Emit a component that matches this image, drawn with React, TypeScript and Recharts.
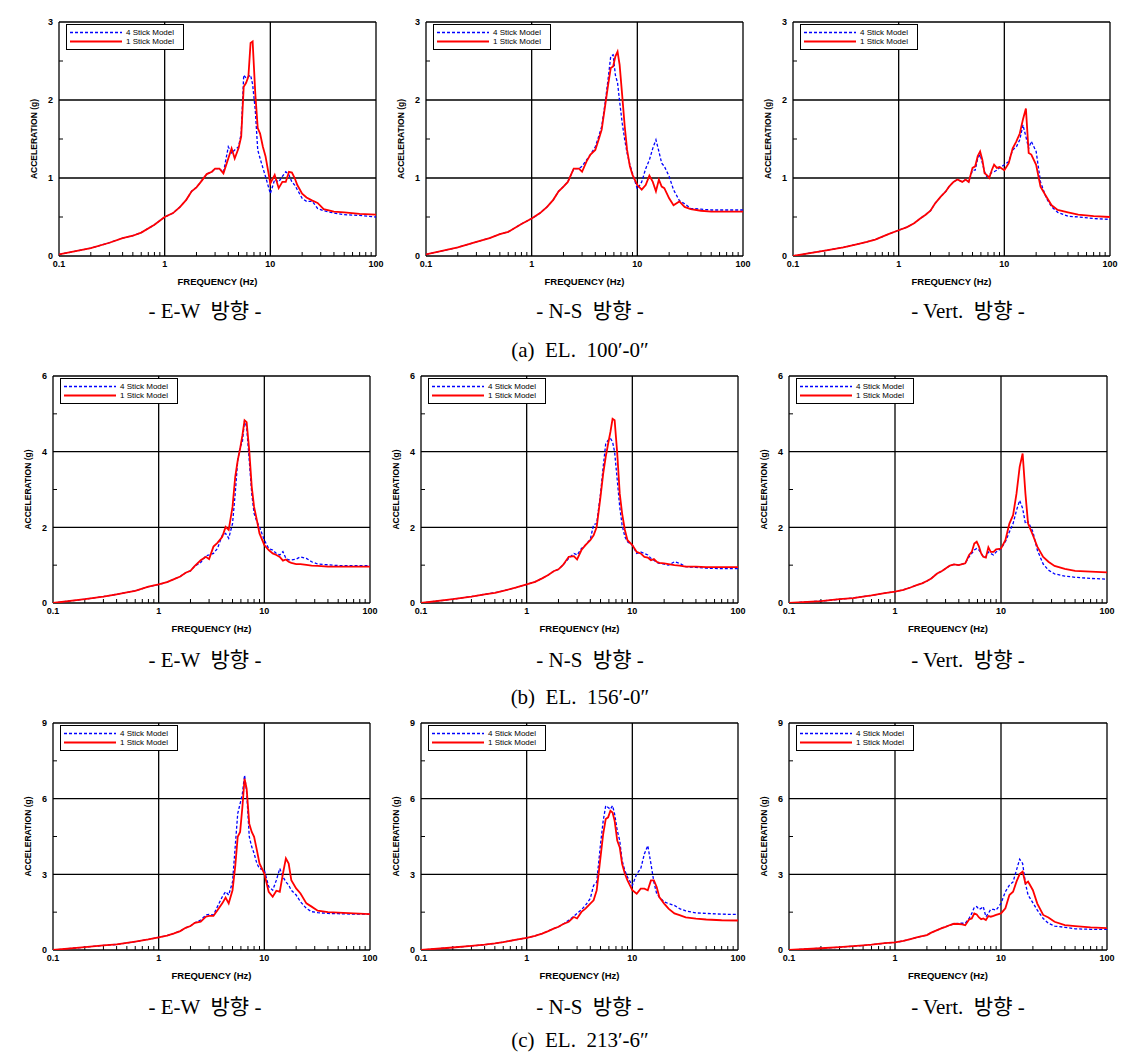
import { LineChart, Line, XAxis, YAxis, CartesianGrid, ReferenceLine } from 'recharts';

// frequency grid (Hz) shared by every panel
const FREQ = [
  0.1, 0.2, 0.3, 0.4, 0.5, 0.6, 0.8,
  1.0, 1.2, 1.4, 1.6, 1.8,
  2.0, 2.2, 2.5, 2.8,
  3.0, 3.3, 3.6,
  4.0, 4.3, 4.6,
  5.0, 5.3, 5.6, 5.9,
  6.2, 6.5, 6.8,
  7.2, 7.6,
  8.0, 8.5,
  9.0,
  10, 11, 12, 13, 14, 15, 16, 17, 18,
  20, 22, 25, 28,
  32, 40, 50, 70, 100,
];

const X_TICKS = [0.1, 1, 10, 100];
const X_MINOR = [0.2, 0.3, 0.4, 0.5, 0.6, 0.7, 0.8, 0.9, 2, 3, 4, 5, 6, 7, 8, 9, 20, 30, 40, 50, 60, 70, 80, 90];

const Y_TICKS_A = [0, 1, 2, 3];
const Y_MINOR_A = [0.5, 1.5, 2.5];
const Y_TICKS_B = [0, 2, 4, 6];
const Y_MINOR_B = [1, 3, 5];
const Y_TICKS_C = [0, 3, 6, 9];
const Y_MINOR_C = [1.5, 4.5, 7.5];

// (a) EL. 100'-0"
const EW_A_FOUR = [0.02, 0.10, 0.17, 0.23, 0.26, 0.30, 0.40, 0.50, 0.55, 0.63, 0.72, 0.83, 0.88, 0.95, 1.05, 1.08, 1.12, 1.12, 1.07, 1.40, 1.32, 1.36, 1.40, 1.57, 2.32, 2.28, 2.30, 2.32, 2.20, 1.87, 1.36, 1.25, 1.13, 1.02, 0.80, 0.98, 0.95, 1.02, 1.08, 1.04, 0.95, 0.91, 0.85, 0.74, 0.70, 0.70, 0.61, 0.58, 0.55, 0.53, 0.52, 0.50];
const EW_A_ONE = [0.02, 0.10, 0.17, 0.23, 0.26, 0.30, 0.40, 0.50, 0.55, 0.63, 0.72, 0.83, 0.88, 0.95, 1.05, 1.08, 1.12, 1.12, 1.06, 1.25, 1.38, 1.25, 1.38, 1.53, 2.17, 2.22, 2.30, 2.73, 2.75, 2.09, 1.64, 1.57, 1.40, 1.28, 0.93, 1.04, 0.87, 0.95, 0.95, 1.08, 1.07, 1.00, 0.91, 0.80, 0.75, 0.71, 0.68, 0.60, 0.57, 0.56, 0.54, 0.53];
const NS_A_FOUR = [0.02, 0.11, 0.18, 0.23, 0.28, 0.31, 0.41, 0.48, 0.55, 0.63, 0.72, 0.83, 0.89, 0.95, 1.12, 1.12, 1.15, 1.23, 1.30, 1.40, 1.53, 1.66, 2.00, 2.28, 2.56, 2.58, 2.32, 2.22, 1.98, 1.70, 1.49, 1.32, 1.17, 1.06, 0.86, 0.95, 1.12, 1.23, 1.38, 1.49, 1.34, 1.19, 1.15, 1.02, 0.85, 0.71, 0.67, 0.61, 0.60, 0.59, 0.59, 0.59];
const NS_A_ONE = [0.02, 0.11, 0.18, 0.23, 0.28, 0.31, 0.41, 0.48, 0.55, 0.63, 0.72, 0.83, 0.89, 0.95, 1.12, 1.12, 1.08, 1.21, 1.30, 1.36, 1.49, 1.62, 1.96, 2.20, 2.41, 2.43, 2.56, 2.62, 2.45, 2.05, 1.66, 1.36, 1.15, 1.04, 0.91, 0.85, 0.91, 1.03, 0.95, 0.83, 0.98, 0.89, 0.87, 0.74, 0.65, 0.70, 0.63, 0.60, 0.58, 0.57, 0.57, 0.57];
const VT_A_FOUR = [0.00, 0.07, 0.11, 0.15, 0.18, 0.21, 0.28, 0.33, 0.37, 0.42, 0.48, 0.53, 0.58, 0.67, 0.76, 0.83, 0.89, 0.95, 0.98, 0.95, 0.98, 0.95, 1.10, 1.10, 1.25, 1.30, 1.19, 1.08, 1.02, 1.04, 1.07, 1.08, 1.10, 1.13, 1.17, 1.21, 1.36, 1.40, 1.49, 1.68, 1.53, 1.38, 1.47, 1.34, 0.95, 0.74, 0.63, 0.56, 0.51, 0.50, 0.48, 0.47];
const VT_A_ONE = [0.00, 0.07, 0.11, 0.15, 0.18, 0.21, 0.28, 0.33, 0.37, 0.42, 0.48, 0.53, 0.58, 0.67, 0.76, 0.83, 0.89, 0.95, 0.98, 0.95, 0.98, 0.95, 1.13, 1.15, 1.28, 1.34, 1.23, 1.06, 1.04, 1.00, 1.10, 1.17, 1.13, 1.14, 1.10, 1.19, 1.38, 1.47, 1.57, 1.75, 1.89, 1.32, 1.30, 1.17, 0.89, 0.76, 0.65, 0.59, 0.56, 0.53, 0.51, 0.50];

// (b) EL. 156'-0"
const EW_B_FOUR = [0.00, 0.10, 0.17, 0.23, 0.28, 0.32, 0.43, 0.49, 0.55, 0.63, 0.70, 0.80, 0.85, 0.98, 1.07, 1.25, 1.27, 1.31, 1.44, 1.79, 1.84, 1.71, 2.10, 2.89, 3.77, 4.12, 4.26, 4.83, 4.65, 3.77, 2.89, 2.37, 2.15, 2.01, 1.66, 1.44, 1.40, 1.31, 1.27, 1.36, 1.18, 1.14, 1.14, 1.16, 1.22, 1.18, 1.09, 1.03, 1.01, 0.99, 0.99, 0.99];
const EW_B_ONE = [0.00, 0.10, 0.17, 0.23, 0.28, 0.32, 0.43, 0.49, 0.55, 0.63, 0.70, 0.80, 0.85, 0.98, 1.13, 1.22, 1.16, 1.49, 1.59, 1.75, 2.01, 1.93, 2.54, 3.33, 3.77, 4.08, 4.43, 4.83, 4.78, 4.03, 3.07, 2.54, 2.19, 1.84, 1.53, 1.40, 1.31, 1.27, 1.22, 1.12, 1.15, 1.09, 1.06, 1.03, 1.03, 1.01, 0.99, 0.98, 0.96, 0.96, 0.96, 0.96];
const NS_B_FOUR = [0.00, 0.10, 0.17, 0.23, 0.27, 0.32, 0.41, 0.49, 0.56, 0.65, 0.74, 0.84, 0.89, 1.00, 1.18, 1.31, 1.27, 1.44, 1.53, 1.68, 2.07, 2.10, 2.89, 3.60, 4.21, 4.30, 4.35, 4.26, 3.99, 3.25, 2.54, 2.06, 1.75, 1.62, 1.53, 1.31, 1.35, 1.31, 1.27, 1.18, 1.13, 1.07, 1.05, 1.03, 1.00, 1.09, 1.05, 0.96, 0.94, 0.92, 0.91, 0.91];
const NS_B_ONE = [0.00, 0.10, 0.17, 0.23, 0.27, 0.32, 0.41, 0.49, 0.56, 0.65, 0.74, 0.84, 0.89, 1.00, 1.22, 1.24, 1.15, 1.40, 1.53, 1.66, 1.79, 2.01, 2.81, 3.42, 3.86, 4.21, 4.52, 4.87, 4.83, 3.95, 2.89, 2.37, 1.93, 1.66, 1.53, 1.35, 1.31, 1.22, 1.20, 1.13, 1.16, 1.09, 1.06, 1.05, 1.03, 1.00, 0.99, 0.96, 0.96, 0.95, 0.95, 0.95];
const VT_B_FOUR = [0.00, 0.05, 0.10, 0.13, 0.17, 0.20, 0.26, 0.30, 0.35, 0.41, 0.47, 0.52, 0.58, 0.65, 0.78, 0.85, 0.91, 0.99, 1.02, 1.00, 1.03, 1.05, 1.22, 1.31, 1.40, 1.44, 1.40, 1.31, 1.22, 1.22, 1.35, 1.31, 1.27, 1.35, 1.44, 1.62, 1.88, 2.10, 2.45, 2.71, 2.50, 2.10, 2.15, 1.88, 1.40, 1.03, 0.87, 0.77, 0.71, 0.68, 0.65, 0.63];
const VT_B_ONE = [0.00, 0.05, 0.10, 0.13, 0.17, 0.20, 0.26, 0.30, 0.35, 0.41, 0.47, 0.52, 0.58, 0.65, 0.78, 0.85, 0.91, 0.99, 1.02, 1.00, 1.03, 1.05, 1.27, 1.35, 1.57, 1.62, 1.49, 1.31, 1.22, 1.20, 1.47, 1.35, 1.35, 1.42, 1.44, 1.66, 2.10, 2.32, 2.89, 3.60, 3.95, 2.89, 2.10, 1.79, 1.49, 1.22, 1.09, 0.98, 0.90, 0.85, 0.83, 0.81];

// (c) EL. 213'-6"
const EW_C_FOUR = [0.00, 0.11, 0.18, 0.22, 0.28, 0.33, 0.42, 0.50, 0.57, 0.66, 0.75, 0.88, 0.95, 1.08, 1.19, 1.39, 1.41, 1.39, 1.72, 2.11, 2.31, 2.18, 2.70, 4.09, 5.41, 5.80, 6.20, 6.93, 6.27, 4.49, 4.09, 3.83, 3.43, 3.23, 3.17, 2.51, 2.37, 2.77, 3.23, 2.90, 2.70, 2.57, 2.37, 2.18, 1.91, 1.65, 1.52, 1.48, 1.45, 1.44, 1.42, 1.42];
const EW_C_ONE = [0.00, 0.11, 0.18, 0.22, 0.28, 0.33, 0.42, 0.50, 0.57, 0.66, 0.75, 0.88, 0.95, 1.08, 1.12, 1.32, 1.35, 1.35, 1.58, 1.85, 2.08, 1.85, 2.37, 3.30, 4.49, 4.68, 5.67, 6.79, 6.40, 5.01, 4.68, 4.49, 3.96, 3.43, 3.03, 2.31, 2.11, 2.35, 2.31, 3.03, 3.63, 3.43, 2.77, 2.44, 2.24, 1.85, 1.72, 1.56, 1.50, 1.48, 1.45, 1.42];
const NS_C_FOUR = [0.00, 0.10, 0.16, 0.21, 0.26, 0.31, 0.41, 0.48, 0.56, 0.65, 0.75, 0.85, 0.92, 1.02, 1.18, 1.34, 1.45, 1.60, 1.77, 2.04, 2.56, 2.69, 4.20, 5.12, 5.72, 5.65, 5.58, 5.72, 5.39, 4.73, 4.34, 3.55, 3.15, 2.89, 2.56, 3.02, 3.22, 3.81, 4.14, 3.42, 2.69, 2.23, 2.10, 1.91, 1.84, 1.77, 1.64, 1.55, 1.47, 1.45, 1.42, 1.41];
const NS_C_ONE = [0.00, 0.10, 0.16, 0.21, 0.26, 0.31, 0.41, 0.48, 0.56, 0.65, 0.75, 0.85, 0.92, 1.02, 1.12, 1.31, 1.25, 1.51, 1.64, 1.84, 1.97, 2.37, 3.68, 4.60, 5.19, 5.26, 5.52, 5.45, 5.12, 4.34, 4.07, 3.42, 3.02, 2.76, 2.37, 2.23, 2.43, 2.43, 2.37, 2.76, 2.76, 2.50, 2.10, 1.84, 1.64, 1.45, 1.38, 1.29, 1.24, 1.21, 1.18, 1.17];
const VT_C_FOUR = [0.00, 0.07, 0.11, 0.15, 0.18, 0.21, 0.27, 0.30, 0.36, 0.43, 0.50, 0.55, 0.59, 0.69, 0.79, 0.88, 0.92, 0.99, 1.04, 1.06, 1.06, 1.06, 1.25, 1.45, 1.69, 1.72, 1.61, 1.65, 1.72, 1.32, 1.45, 1.61, 1.61, 1.58, 1.85, 2.31, 2.57, 2.70, 3.17, 3.60, 3.43, 2.64, 2.18, 1.87, 1.58, 1.25, 1.06, 0.95, 0.90, 0.84, 0.82, 0.82];
const VT_C_ONE = [0.00, 0.07, 0.11, 0.15, 0.18, 0.21, 0.27, 0.30, 0.36, 0.43, 0.50, 0.55, 0.59, 0.69, 0.79, 0.88, 0.92, 0.99, 1.04, 1.03, 1.02, 0.98, 1.21, 1.25, 1.45, 1.41, 1.29, 1.22, 1.25, 1.19, 1.35, 1.32, 1.35, 1.39, 1.45, 1.65, 2.18, 2.31, 2.71, 3.01, 3.11, 2.64, 2.71, 2.37, 1.84, 1.39, 1.29, 1.12, 0.99, 0.95, 0.90, 0.87];

const SERIES = [
  { key: 'four', name: '4 Stick Model', color: '#0000ff', dash: '3 2', width: 1.3 },
  { key: 'one', name: '1 Stick Model', color: '#ff0000', dash: undefined, width: 1.8 },
];

const DIRECTIONS = ['- E-W  방향 -', '- N-S  방향 -', '- Vert.  방향 -'];
const ELEVATIONS = ['(a)  EL.  100′-0″', '(b)  EL.  156′-0″', '(c)  EL.  213′-6″'];

const FONT = "'Liberation Sans', Arial, sans-serif";
const SERIF = "'Liberation Serif', 'Times New Roman', 'Noto Sans CJK KR', serif";
const YW = 40;
const XH = 36;
const MT = 6;
const MR = 8;

interface PanelSpec {
  x0: number; x1: number; y0: number; y1: number;
  ticks: number[]; minor: number[];
  four: number[]; one: number[];
}

const PANELS: PanelSpec[] = [
  { x0: 59, x1: 376, y0: 22, y1: 256, ticks: Y_TICKS_A, minor: Y_MINOR_A, four: EW_A_FOUR, one: EW_A_ONE },
  { x0: 426, x1: 743, y0: 22, y1: 256, ticks: Y_TICKS_A, minor: Y_MINOR_A, four: NS_A_FOUR, one: NS_A_ONE },
  { x0: 793, x1: 1110, y0: 22, y1: 256, ticks: Y_TICKS_A, minor: Y_MINOR_A, four: VT_A_FOUR, one: VT_A_ONE },
  { x0: 53, x1: 370, y0: 376, y1: 603, ticks: Y_TICKS_B, minor: Y_MINOR_B, four: EW_B_FOUR, one: EW_B_ONE },
  { x0: 421, x1: 738, y0: 376, y1: 603, ticks: Y_TICKS_B, minor: Y_MINOR_B, four: NS_B_FOUR, one: NS_B_ONE },
  { x0: 789, x1: 1107, y0: 376, y1: 603, ticks: Y_TICKS_B, minor: Y_MINOR_B, four: VT_B_FOUR, one: VT_B_ONE },
  { x0: 53, x1: 370, y0: 723, y1: 950, ticks: Y_TICKS_C, minor: Y_MINOR_C, four: EW_C_FOUR, one: EW_C_ONE },
  { x0: 421, x1: 738, y0: 723, y1: 950, ticks: Y_TICKS_C, minor: Y_MINOR_C, four: NS_C_FOUR, one: NS_C_ONE },
  { x0: 789, x1: 1107, y0: 723, y1: 950, ticks: Y_TICKS_C, minor: Y_MINOR_C, four: VT_C_FOUR, one: VT_C_ONE },
];

const DIR_X = [205, 590, 968];
const DIR_Y = [311, 660, 1007];
const ELEV_X = 580;
const ELEV_Y = [350, 697, 1040];

function LegendBox() {
  return (
    <div
      style={{
        position: 'absolute', left: YW + 7, top: MT + 2, width: 118, height: 26,
        border: '1px solid #000', background: '#fff', boxSizing: 'border-box',
        fontFamily: FONT, fontSize: 8, color: '#000',
      }}
    >
      {SERIES.map((s, i) => (
        <div key={s.key} style={{ position: 'absolute', left: 3, top: 3 + i * 9, height: 9, display: 'flex', alignItems: 'center' }}>
          <svg width={52} height={9}>
            <line x1={0} x2={52} y1={4.5} y2={4.5} stroke={s.color} strokeWidth={s.dash ? 1.5 : 2} strokeDasharray={s.dash} />
          </svg>
          <span style={{ marginLeft: 4, lineHeight: '9px', whiteSpace: 'nowrap' }}>{s.name}</span>
        </div>
      ))}
    </div>
  );
}

function Panel({ p }: { p: PanelSpec }) {
  const data = FREQ.map((f, i) => ({ f, four: p.four[i], one: p.one[i] }));
  const pw = p.x1 - p.x0;
  const ph = p.y1 - p.y0;
  const yMax = p.ticks[p.ticks.length - 1];
  const tickUp = (yMax * 4) / ph;
  const tickRight = 0.1 * Math.pow(10, (3 * 4) / pw);
  const axisText = { fill: '#000', fontSize: 9, fontWeight: 700, fontFamily: FONT };

  return (
    <div style={{ position: 'absolute', left: p.x0 - YW, top: p.y0 - MT }}>
      <LineChart width={pw + YW + MR} height={ph + MT + XH} data={data} margin={{ top: MT, right: MR, bottom: 0, left: 0 }}>
        <CartesianGrid stroke="#000" strokeWidth={1.3} />
        <XAxis
          dataKey="f"
          type="number"
          scale="log"
          domain={[0.1, 100]}
          ticks={X_TICKS}
          interval={0}
          allowDataOverflow
          axisLine={false}
          tickLine={false}
          tickSize={3}
          tickMargin={2}
          height={XH}
          tick={axisText}
          label={{ value: 'FREQUENCY (Hz)', position: 'insideBottom', offset: 7, fill: '#000', fontSize: 9.5, fontWeight: 700, fontFamily: FONT }}
        />
        <YAxis
          type="number"
          domain={[0, yMax]}
          ticks={p.ticks}
          interval={0}
          allowDataOverflow
          axisLine={false}
          tickLine={false}
          tickSize={4}
          tickMargin={2}
          width={YW}
          tick={axisText}
          label={{ value: 'ACCELERATION (g)', angle: -90, position: 'insideLeft', offset: YW - 25, fill: '#000', fontSize: 8.5, fontWeight: 700, fontFamily: FONT, style: { textAnchor: 'middle' } }}
        />
        {X_MINOR.map((f) => (
          <ReferenceLine key={`xm${f}`} segment={[{ x: f, y: 0 }, { x: f, y: tickUp }]} stroke="#000" strokeWidth={1} />
        ))}
        {p.minor.map((v) => (
          <ReferenceLine key={`ym${v}`} segment={[{ x: 0.1, y: v }, { x: tickRight, y: v }]} stroke="#000" strokeWidth={1} />
        ))}
        {SERIES.map((s) => (
          <Line
            key={s.key}
            type="linear"
            dataKey={s.key}
            name={s.name}
            stroke={s.color}
            strokeWidth={s.width}
            strokeDasharray={s.dash}
            dot={false}
            activeDot={false}
            isAnimationActive={false}
          />
        ))}
      </LineChart>
      <LegendBox />
    </div>
  );
}

export default function App() {
  return (
    <div style={{ position: 'absolute', left: 0, top: 0, width: 1135, height: 1055, background: '#fff', overflow: 'hidden' }}>
      {PANELS.map((p, i) => (
        <Panel key={i} p={p} />
      ))}
      {DIR_Y.map((y, r) =>
        DIRECTIONS.map((d, c) => (
          <div
            key={`d${r}${c}`}
            style={{
              position: 'absolute', left: DIR_X[c] - 100, top: y - 11, width: 200, textAlign: 'center',
              fontFamily: SERIF, fontSize: 21, lineHeight: '22px', whiteSpace: 'pre', color: '#000',
            }}
          >
            {d}
          </div>
        ))
      )}
      {ELEV_Y.map((y, r) => (
        <div
          key={`e${r}`}
          style={{
            position: 'absolute', left: ELEV_X - 150, top: y - 11, width: 300, textAlign: 'center',
            fontFamily: SERIF, fontSize: 21, lineHeight: '22px', whiteSpace: 'pre', color: '#000',
          }}
        >
          {ELEVATIONS[r]}
        </div>
      ))}
    </div>
  );
}
